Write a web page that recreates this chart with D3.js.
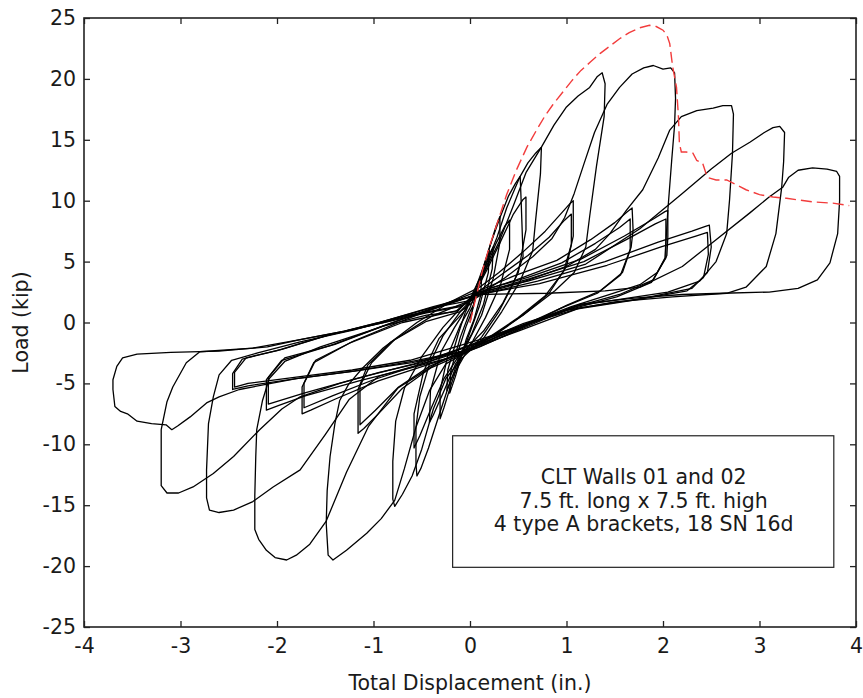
<!DOCTYPE html>
<html>
<head>
<meta charset="utf-8">
<script src="https://cdn.jsdelivr.net/npm/d3@7"></script>
<style>
  body { margin: 0; background: #fff; }
  svg text { font-family: "DejaVu Sans", Verdana, sans-serif; fill: #1a1a1a; }
</style>
</head>
<body>
<svg width="863" height="698"></svg>
<script>
// Axis ticks
var xTicks = [-4, -3, -2, -1, 0, 1, 2, 3, 4];
var yTicks = [-25, -20, -15, -10, -5, 0, 5, 10, 15, 20, 25];

// Legend text
var noteLines = ["CLT Walls 01 and 02", "7.5 ft. long x 7.5 ft. high", "4 type A brackets, 18 SN 16d"];

// Cyclic test, one array per cycle: [displacement (in.), load (kip)]
var c01 = [[0,0],[0.04,1.6],[0.08,2.8],[0.12,3.6],[0.11,2.2],[0.04,0.2],[-0.04,-1.4],[-0.09,-2.8],[-0.13,-3.7],[-0.12,-2.3],[-0.04,-0.3],[0.02,0.9]];
var c02 = [[0.02,0.9],[0.08,2.8],[0.15,4.8],[0.2,5.9],[0.19,4.1],[0.1,1.4],[0,-0.8],[-0.08,-2.5],[-0.15,-4.4],[-0.21,-5.8],[-0.2,-4],[-0.1,-1.2],[0,0.9],[0.04,1.5]];
var c03 = [[0.04,1.5],[0.12,3.9],[0.2,6.1],[0.27,7.9],[0.31,8.7],[0.31,6.6],[0.24,3.6],[0.12,0.6],[0,-1.3],[-0.1,-2.9],[-0.2,-5.2],[-0.27,-7],[-0.31,-7.9],[-0.31,-5.6],[-0.23,-2.7],[-0.1,-0.2],[0,1.2]];
var c04 = [[0,1.2],[0.12,3.8],[0.2,5.6],[0.24,6.2],[0.23,4.4],[0.14,1.5],[0.02,-0.9],[-0.1,-2.6],[-0.19,-4.6],[-0.24,-5.6],[-0.23,-3.9],[-0.12,-0.9],[-0.05,0.8]];
var c05 = [[-0.05,0.8],[0.05,2.6],[0.14,4.6],[0.22,6.6],[0.31,8.6],[0.4,10.4],[0.47,11.4],[0.52,12],[0.53,10],[0.55,5.4],[0.45,3.2],[0.3,0.9],[0.12,-1.2],[-0.05,-2.6],[-0.2,-4.7],[-0.32,-7.6],[-0.43,-10.3],[-0.51,-12],[-0.55,-12.6],[-0.56,-11.6],[-0.56,-8.6],[-0.52,-6.1],[-0.42,-3.4],[-0.28,-1.1],[-0.1,0.9],[0.02,1.6]];
var c06 = [[0.02,1.6],[0.15,4.2],[0.27,6.5],[0.36,7.9],[0.41,8.4],[0.41,6],[0.32,3.2],[0.16,0.4],[0.03,-1.5],[-0.15,-3.4],[-0.28,-5.8],[-0.38,-7.6],[-0.42,-8.2],[-0.41,-5.6],[-0.3,-2.4],[-0.16,-0.4],[-0.08,0.6]];
var c07 = [[-0.08,0.6],[0.04,2.6],[0.16,4.6],[0.28,7],[0.38,9.4],[0.46,10.9],[0.52,12],[0.6,13.1],[0.68,13.9],[0.74,14.4],[0.73,12.2],[0.68,8.4],[0.65,5.9],[0.52,3.4],[0.33,0.9],[0.14,-1.3],[-0.08,-2.9],[-0.25,-4.6],[-0.38,-7.1],[-0.5,-10.4],[-0.6,-12.6],[-0.7,-14.1],[-0.78,-15.1],[-0.8,-14.5],[-0.8,-11.4],[-0.77,-8.1],[-0.68,-5.4],[-0.5,-2.8],[-0.28,-0.4],[-0.05,1.6],[0.05,2.4]];
var c08 = [[0.05,2.4],[0.18,4.4],[0.32,6.7],[0.45,8.9],[0.55,10.1],[0.58,10.3],[0.58,7.6],[0.5,4.1],[0.34,1.6],[0.14,-0.7],[-0.12,-2.8],[-0.27,-4.6],[-0.4,-7],[-0.52,-9.3],[-0.58,-10.3],[-0.58,-7.5],[-0.48,-4],[-0.32,-1.3],[-0.05,1.0]];
var c09 = [[-0.05,1.0],[0.06,2.6],[0.16,4.3],[0.3,6.6],[0.45,9.6],[0.58,12.3],[0.74,14.4],[0.87,16.2],[1.0,17.7],[1.12,18.6],[1.24,19.3],[1.32,20.2],[1.37,20.5],[1.4,19.6],[1.39,16.9],[1.31,12.8],[1.24,8.7],[1.2,6.2],[1.08,4.1],[0.88,2.6],[0.6,0.9],[0.3,-0.8],[0.02,-2.2],[-0.25,-3.4],[-0.42,-5.6],[-0.56,-8.6],[-0.68,-12],[-0.78,-14.6],[-0.92,-16.1],[-1.07,-17.3],[-1.28,-18.7],[-1.42,-19.5],[-1.47,-19.1],[-1.49,-16.5],[-1.48,-13.8],[-1.45,-11],[-1.4,-8.3],[-1.35,-6.4],[-1.26,-5.1],[-1.12,-3.8],[-0.9,-2.1],[-0.55,0],[-0.2,1.7],[0.1,2.9]];
var c10 = [[0.1,2.9],[0.3,4.1],[0.55,5.8],[0.78,7.5],[0.95,9],[1.04,9.8],[1.07,10],[1.07,7.1],[1.0,4.6],[0.82,2.4],[0.55,0.6],[0.25,-1],[-0.08,-2.6],[-0.4,-3.7],[-0.7,-5.4],[-0.95,-7.5],[-1.1,-8.7],[-1.16,-9.1],[-1.16,-5.5],[-1.06,-3.5],[-0.82,-1.6],[-0.45,0.1],[-0.1,0.9]];
var c11 = [[-0.1,0.9],[0.1,2.6],[0.32,3.9],[0.6,5.5],[0.82,7],[0.98,8.4],[1.05,8.9],[1.05,6.4],[0.97,4.2],[0.78,2.2],[0.5,0.4],[0.2,-1.2],[-0.04,-2.2],[-0.42,-3.6],[-0.74,-5.3],[-0.98,-7.2],[-1.14,-8.4],[-1.14,-5.2],[-1.02,-3.3],[-0.78,-1.4],[-0.4,0.5],[0,1.8]];
var c12 = [[0,1.8],[0.35,3.6],[0.65,5.4],[0.85,6.9],[0.98,8.6],[1.08,10.6],[1.18,13],[1.29,15.6],[1.42,17.9],[1.55,19.3],[1.68,20.4],[1.8,20.9],[1.9,21.1],[2.0,20.8],[2.08,20.9],[2.12,20.5],[2.13,18.4],[2.12,16.2],[2.09,13.3],[2.05,9.2],[2.02,5.3],[1.94,4.1],[1.76,3.1],[1.45,2.3],[1.05,1.3],[0.55,-0.2],[0.15,-1.6],[-0.35,-3.4],[-0.75,-5.4],[-1.05,-8.5],[-1.28,-12.3],[-1.49,-16.3],[-1.66,-18.2],[-1.8,-19.1],[-1.9,-19.5],[-2.02,-19.3],[-2.11,-18.7],[-2.19,-17.8],[-2.23,-17],[-2.23,-14.2],[-2.22,-11],[-2.21,-8.8],[-2.15,-6.4],[-2.08,-4.6],[-1.92,-3.2],[-1.55,-2],[-1.05,-0.7],[-0.55,0.7],[-0.1,2.0],[0.12,2.7]];
var c13 = [[0.12,2.7],[0.45,3.8],[0.9,5.1],[1.25,6.8],[1.5,8.2],[1.63,9.1],[1.68,9.4],[1.69,7.6],[1.67,6.2],[1.58,4.1],[1.35,2.6],[1.0,1.4],[0.52,-0.5],[0.1,-2.0],[-0.1,-2.6],[-0.45,-3.5],[-0.95,-4.8],[-1.4,-6.3],[-1.65,-7.2],[-1.74,-7.5],[-1.74,-5.3],[-1.62,-3.3],[-1.25,-1.7],[-0.7,0.0],[-0.12,1.0]];
var c14 = [[-0.12,1.0],[0.05,2.4],[0.48,3.5],[0.95,4.9],[1.3,6.5],[1.55,7.8],[1.66,8.5],[1.66,6],[1.56,3.9],[1.32,2.4],[0.95,1.2],[0.48,-0.5],[0.02,-2.1],[-0.5,-3.4],[-1.0,-4.7],[-1.42,-6],[-1.72,-7],[-1.72,-5],[-1.6,-3.1],[-1.2,-1.5],[-0.65,0.3],[-0.2,1.7],[0.05,2.2]];
var c15 = [[0.05,2.2],[0.5,3.2],[1.0,4.6],[1.3,6],[1.45,7.3],[1.62,9.2],[1.79,10.9],[1.95,13.5],[2.07,15.8],[2.19,16.9],[2.35,17.4],[2.52,17.6],[2.62,17.8],[2.71,17.8],[2.73,17.1],[2.72,13.9],[2.69,10.1],[2.66,7.3],[2.55,5],[2.38,3.4],[2.05,2.5],[1.55,1.9],[1.14,1.4],[0.55,-0.1],[0.12,-1.5],[-0.45,-3.3],[-0.94,-4.4],[-1.25,-6.3],[-1.5,-9.2],[-1.76,-12.1],[-2.04,-13.5],[-2.25,-14.7],[-2.45,-15.4],[-2.6,-15.6],[-2.7,-15.4],[-2.73,-14.4],[-2.73,-12.1],[-2.71,-8.3],[-2.66,-6.1],[-2.6,-4.3],[-2.47,-3.1],[-2.2,-2.5],[-1.76,-1.6],[-1.2,-0.6],[-0.7,0.5],[-0.08,1.4]];
var c16 = [[-0.08,1.4],[0.2,2.8],[0.6,3.7],[1.15,5.2],[1.6,7.1],[1.9,8.5],[2.02,9.1],[2.05,9.2],[2.05,7],[2.04,5.5],[1.9,3.5],[1.55,2.3],[1.05,1.2],[0.45,-0.8],[-0.12,-2.7],[-0.55,-3.6],[-1.15,-4.8],[-1.7,-6],[-1.98,-6.8],[-2.11,-7.2],[-2.11,-4.7],[-1.95,-3.1],[-1.45,-1.9],[-0.94,-0.4],[-0.4,1.1],[0.1,2.4]];
var c17 = [[0.1,2.4],[0.62,3.6],[1.18,5],[1.62,6.8],[1.92,8.1],[2.03,8.5],[2.03,5.3],[1.88,3.3],[1.52,2.1],[1.0,1],[0.42,-0.6],[0.05,-1.8],[-0.58,-3.4],[-1.18,-4.6],[-1.72,-5.8],[-2.09,-6.7],[-2.09,-4.5],[-1.92,-2.9],[-1.4,-1.8],[-0.9,-0.3],[-0.45,0.6],[-0.15,0.9]];
var c18 = [[-0.15,0.9],[0.1,2.5],[0.6,3.4],[1.2,4.8],[1.76,7.7],[2.2,10.6],[2.5,12.6],[2.71,13.9],[2.9,14.8],[3.05,15.6],[3.14,16],[3.21,16.1],[3.26,15.6],[3.25,13.2],[3.23,11.1],[3.17,7.3],[3.07,4.6],[2.86,2.9],[2.66,2.4],[2.1,2.1],[1.5,1.7],[1.0,1.0],[0.5,-0.4],[0.08,-1.6],[-0.5,-3.3],[-0.94,-4.1],[-1.35,-5],[-1.76,-6.1],[-1.95,-7.1],[-2.18,-8.8],[-2.45,-11],[-2.66,-12.4],[-2.87,-13.5],[-3.02,-14],[-3.14,-14],[-3.2,-13.4],[-3.2,-11],[-3.2,-8.8],[-3.14,-6.5],[-3.08,-5.3],[-2.94,-3.3],[-2.8,-2.4],[-2.25,-2.1],[-1.76,-1.4],[-1.3,-0.7],[-0.94,0],[-0.38,1.3],[0.06,2.2]];
var c19 = [[0.06,2.2],[0.7,3.4],[1.4,5],[1.95,6.6],[2.3,7.5],[2.44,7.9],[2.48,8.0],[2.5,6.2],[2.46,4.1],[2.3,2.8],[1.8,2.0],[1.14,1.2],[0.5,-0.7],[-0.08,-2.4],[-0.6,-3.3],[-1.2,-4],[-1.8,-4.6],[-2.3,-5.2],[-2.46,-5.5],[-2.46,-4.2],[-2.36,-3],[-2,-2.3],[-1.5,-1.1],[-0.94,-0.1],[-0.45,0.8],[-0.1,1.3]];
var c20 = [[-0.1,1.3],[0.15,2.4],[0.72,3.2],[1.42,4.7],[1.98,6.2],[2.34,7.1],[2.46,7.4],[2.47,5.6],[2.42,3.7],[2.25,2.6],[1.75,1.9],[1.1,1.1],[0.48,-0.4],[0.1,-1.4],[-0.62,-3.1],[-1.22,-3.9],[-1.82,-4.5],[-2.3,-5.0],[-2.44,-5.3],[-2.44,-4.1],[-2.32,-2.9],[-1.95,-2.2],[-1.45,-1.0],[-0.9,0],[-0.38,1.1],[0.08,2.3]];
var c21 = [[0.08,2.3],[0.8,2.4],[1.4,2.6],[1.76,2.9],[2.2,4.6],[2.55,6.8],[2.9,9],[3.1,10.3],[3.24,11.1],[3.3,11.9],[3.4,12.5],[3.55,12.7],[3.7,12.6],[3.8,12.4],[3.83,12],[3.83,10],[3.81,7.3],[3.73,4.9],[3.6,3.5],[3.4,2.8],[3.1,2.5],[2.62,2.4],[2.2,2.3],[1.7,2.0],[1.14,1.5],[0.5,-0.5],[-0.05,-2.3],[-0.6,-3.2],[-1.2,-4.0],[-1.8,-4.6],[-2.39,-5.5],[-2.6,-6.1],[-2.73,-6.6],[-2.9,-7.75],[-3.03,-8.5],[-3.09,-8.8],[-3.15,-8.4],[-3.3,-8.3],[-3.45,-8.1],[-3.55,-7.5],[-3.62,-7.3],[-3.68,-6.9],[-3.7,-5.5],[-3.7,-4.7],[-3.66,-3.6],[-3.6,-2.9],[-3.45,-2.6],[-3.1,-2.45],[-2.6,-2.35],[-2.1,-2.0],[-1.76,-1.4],[-1.3,-0.7],[-0.94,0],[-0.4,1.2],[0,1.8]];

var cycles = [c01, c02, c03, c04, c05, c06, c07, c08, c09, c10, c11, c12, c13, c14, c15, c16, c17, c18, c19, c20, c21];

// Monotonic test (red dashed)
var mono = [[0,0],[0.06,2],[0.13,4.3],[0.2,6.2],[0.28,8.1],[0.38,10.5],[0.48,12.5],[0.59,14.4],[0.69,15.8],[0.78,17.0],[0.86,17.9],[0.95,18.8],[1.05,19.8],[1.15,20.7],[1.25,21.4],[1.35,22.1],[1.45,22.7],[1.55,23.3],[1.65,23.8],[1.76,24.2],[1.86,24.4],[1.93,24.3],[2.0,24.0],[2.04,23.6],[2.07,22.9],[2.1,21],[2.14,19.3],[2.16,16.9],[2.17,14.7],[2.19,14],[2.24,14],[2.31,13.9],[2.35,13.3],[2.41,13.1],[2.46,11.9],[2.55,11.7],[2.66,11.7],[2.76,11.3],[2.86,10.9],[3.0,10.5],[3.14,10.3],[3.28,10.2],[3.55,9.9],[3.76,9.8],[3.93,9.6]];

var svg = d3.select("svg");
var margin = { left: 84, right: 7, top: 18, bottom: 71 };
var W = 863 - margin.left - margin.right;
var H = 698 - margin.top - margin.bottom;

var x = d3.scaleLinear().domain([-4, 4]).range([0, W]);
var y = d3.scaleLinear().domain([-25, 25]).range([H, 0]);

var g = svg.append("g").attr("transform", "translate(" + margin.left + "," + margin.top + ")");

g.append("clipPath").attr("id", "plotclip")
  .append("rect").attr("width", W).attr("height", H);

var line = d3.line().x(function(d) { return x(d[0]); }).y(function(d) { return y(d[1]); });

var plot = g.append("g").attr("clip-path", "url(#plotclip)");

plot.selectAll(".cycle")
  .data(cycles)
  .enter().append("path")
  .attr("class", "cycle")
  .attr("d", line)
  .attr("fill", "none")
  .attr("stroke", "#000")
  .attr("stroke-width", 1.3)
  .attr("stroke-linejoin", "round");

plot.append("path")
  .datum(mono)
  .attr("d", line)
  .attr("fill", "none")
  .attr("stroke", "#f23c3c")
  .attr("stroke-width", 1.4)
  .attr("stroke-dasharray", "11,5");

// Axes, ticks pointing inward, plain hyphen for negatives
var fs = 20.5;
var fmt = function(d) { return String(d); };
g.append("g").attr("transform", "translate(0," + H + ")")
  .call(d3.axisBottom(x).tickValues(xTicks).tickFormat(fmt).tickSizeInner(-6).tickSizeOuter(0).tickPadding(11));
g.append("g")
  .call(d3.axisLeft(y).tickValues(yTicks).tickFormat(fmt).tickSizeInner(-6).tickSizeOuter(0).tickPadding(8));
g.append("g")
  .call(d3.axisTop(x).tickValues(xTicks).tickSizeInner(-6).tickSizeOuter(0).tickFormat(""));
g.append("g").attr("transform", "translate(" + W + ",0)")
  .call(d3.axisRight(y).tickValues(yTicks).tickSizeInner(-6).tickSizeOuter(0).tickFormat(""));

g.selectAll(".tick line").attr("stroke", "#222").attr("stroke-width", 1.3);
g.selectAll(".domain").remove();
g.selectAll(".tick text").attr("font-size", fs).attr("font-family", "DejaVu Sans, Verdana, sans-serif").attr("fill", "#1a1a1a");

g.append("rect").attr("width", W).attr("height", H)
  .attr("fill", "none").attr("stroke", "#222").attr("stroke-width", 1.6);

// Axis titles
svg.append("text")
  .attr("x", margin.left + W / 2).attr("y", 690)
  .attr("text-anchor", "middle").attr("font-size", fs)
  .text("Total Displacement (in.)");
svg.append("text")
  .attr("transform", "translate(28," + (margin.top + H / 2) + ") rotate(-90)")
  .attr("text-anchor", "middle").attr("font-size", fs)
  .text("Load (kip)");

// Note box
var box = g.append("g");
box.append("rect")
  .attr("x", x(-0.18)).attr("y", y(-9.3))
  .attr("width", x(3.77) - x(-0.18)).attr("height", y(-20.1) - y(-9.3))
  .attr("fill", "#fff").attr("stroke", "#222").attr("stroke-width", 1.2);
box.selectAll("text.note")
  .data(noteLines)
  .enter().append("text")
  .attr("class", "note")
  .attr("x", x(1.8))
  .attr("y", function(d, i) { return y(-13.3) + i * 23.5; })
  .attr("text-anchor", "middle")
  .attr("font-size", fs)
  .text(function(d) { return d; });
</script>
</body>
</html>
